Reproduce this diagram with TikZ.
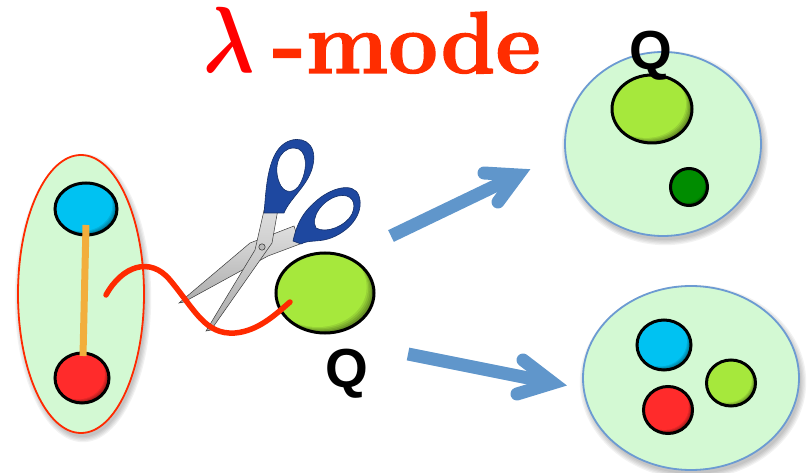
\documentclass[tikz,border=0pt]{standalone}
\usepackage{fontspec}
\usepackage{amsmath,bm,graphicx}
\newfontfamily\qfont{Liberation Sans}
\newfontfamily\titlefont{Latin Modern Roman}[FakeBold=1.6]
\usetikzlibrary{shapes.geometric,arrows.meta,calc}

\definecolor{cellfill}{HTML}{D3F9D3}
\definecolor{cellred}{HTML}{FF2A00}
\definecolor{cellblue}{HTML}{6C9BD2}
\definecolor{arrowblue}{HTML}{6096CB}
\definecolor{ballblue}{HTML}{00C2F2}
\definecolor{ballred}{HTML}{FF2B2B}
\definecolor{balllime}{HTML}{A6E83C}
\definecolor{balldark}{HTML}{008C00}
\definecolor{barorange}{HTML}{F2AE3C}
\definecolor{wirered}{HTML}{FF2A00}
\definecolor{lamred}{HTML}{FF0000}
\definecolor{modered}{HTML}{FF2D00}
\definecolor{handleblue}{HTML}{1E48A0}

\tikzset{
  cell/.style={ellipse, fill=cellfill, line width=1.8pt, inner sep=0pt},
  % ball: dark base, then lighter copies shifted to the upper left,
  % which leaves a soft dark crescent at the lower right
  ball/.style={ellipse, draw=black, line width=3pt, inner sep=0pt, fill=#1!55!black,
    path picture={
      \foreach \k/\m in {1/64,2/73,3/82,4/91,5/100}{
        \fill[#1!\m!black]
          let \p1=(path picture bounding box.north east),
              \p2=(path picture bounding box.center) in
          ($(\p2)+({-0.03*\k*(\x1-\x2)},{0.03*\k*(\y1-\y2)})$)
          ellipse [x radius={\x1-\x2}, y radius={\y1-\y2}];
      }}},
  qlabel/.style={font=\qfont\bfseries\fontsize{55}{60}\selectfont, inner sep=0pt, anchor=base},
  shaftline/.style={arrowblue, line width=13pt, line cap=butt},
  headline/.style={arrowblue, line width=13pt, line cap=round, line join=miter},
  wire/.style={wirered, line width=5.5pt, line cap=round},
  blade/.style={top color=gray!25, bottom color=gray!65, draw=gray!45!black, line width=0.5pt},
  handle/.style={fill=handleblue, draw=handleblue!65!black, line width=0.6pt, even odd rule},
}

% soft shadow under a large ellipse: centre x, centre y, width, height
\newcommand{\softshadow}[4]{%
  \foreach \k in {0,1,2,3,4}{%
    \fill[black, opacity=0.05] (#1+2,#2+4) ellipse [x radius={#3/2+\k*1.3}, y radius={#4/2+\k*1.3}];}}

\begin{document}
\begin{tikzpicture}[x=1pt, y=-1pt]
\useasboundingbox (0,0) rectangle (807,473);

% title
\node[anchor=base west, inner sep=0pt, text=lamred] (lam) at (203,73)
  {\fontsize{10}{12}\selectfont\scalebox{7.6}[9.4]{$\bm{\lambda}$}};
\node[anchor=base east, inner sep=0pt, text=modered,
  font=\titlefont\bfseries\fontsize{88}{90}\selectfont] (mode) at (541,73) {-mode};

% left cell with the bound pair
\softshadow{81}{294}{126}{278}
\node[cell, draw=cellred, minimum width=126pt, minimum height=278pt] (pair) at (81,294) {};
\node[ball=ballblue, minimum width=62pt, minimum height=52pt] (lb) at (86,209) {};
\node[ball=ballred, minimum width=54pt, minimum height=50pt] (lr) at (82,378) {};
\coordinate (bartop) at (86,225);
\coordinate (barbot) at (83,356);
\draw[barorange, line width=7pt] (bartop) -- (barbot);

% released particle
\node[ball=balllime, minimum width=98pt, minimum height=80pt] (q) at (325,293) {};
\node[qlabel] (qlab) at (347,388) {Q};

% scissors
\draw[blade] (294,226) -- (300,244) -- (268,256) -- (184,302) -- (179,303) -- (250,243) -- cycle;
\draw[blade] (265,206) -- (278,209) -- (272,243) -- (211,330) -- (206,331) -- (255,250) -- cycle;
\fill[gray!55] (262,247) circle[radius=3.2];
\draw[gray!30!black, line width=0.5pt] (262,247) circle[radius=3.2];
\draw[handle]
  (264,213) .. controls (266,195) and (266,155) .. (285,143)
  .. controls (300,134) and (318,142) .. (313,165)
  .. controls (309,185) and (290,198) .. (284,213) -- cycle
  (281,186) .. controls (272,170) and (278,148) .. (294,148)
  .. controls (308,148) and (308,170) .. (300,184)
  .. controls (295,193) and (286,194) .. (281,186) -- cycle;
\draw[handle]
  (293,241) .. controls (296,228) and (300,215) .. (315,202)
  .. controls (330,188) and (354,181) .. (359,196)
  .. controls (365,214) and (348,233) .. (328,239)
  .. controls (318,242) and (308,240) .. (301,244) -- cycle
  (316,228) .. controls (310,218) and (322,200) .. (338,196)
  .. controls (352,193) and (357,203) .. (352,214)
  .. controls (346,226) and (326,234) .. (316,228) -- cycle;

% tether being cut
\coordinate (wstart) at (106,295);
\coordinate (wend) at (290,302);
\draw[wire] (wstart) .. controls (122,266) and (150,256) .. (170,280)
  .. controls (195,310) and (205,335) .. (235,333)
  .. controls (258,331) and (275,315) .. (wend);

% upper arrow
\coordinate (a1tail) at (391,236);
\coordinate (a1tip) at (518,175);
\coordinate (a1up) at (484,173);
\coordinate (a1lo) at (498,202);
\draw[shaftline] (a1tail) -- (a1tip);
\draw[headline] (a1up) -- (a1tip) -- (a1lo);

% lower arrow
\coordinate (a2tail) at (408,354);
\coordinate (a2tip) at (553,383);
\coordinate (a2up) at (523,360);
\coordinate (a2lo) at (517,394);
\draw[shaftline] (a2tail) -- (a2tip);
\draw[headline] (a2up) -- (a2tip) -- (a2lo);

% upper right cell
\softshadow{663}{144}{196}{184}
\node[cell, draw=cellblue, minimum width=196pt, minimum height=184pt] (c1) at (663,144) {};
\node[ball=balllime, minimum width=80pt, minimum height=68pt] (c1q) at (652,109) {};
\node[ball=balldark, minimum width=37pt, minimum height=37pt] (c1d) at (689,187) {};
\node[qlabel] (c1lab) at (651,70) {Q};

% lower right cell
\softshadow{691}{378}{216}{184}
\node[cell, draw=cellblue, minimum width=216pt, minimum height=184pt] (c2) at (691,378) {};
\node[ball=ballblue, minimum width=54pt, minimum height=50pt] (c2b) at (664,345) {};
\node[ball=ballred, minimum width=49pt, minimum height=47pt] (c2r) at (668,410) {};
\node[ball=balllime, minimum width=49pt, minimum height=46pt] (c2l) at (731,383) {};
\end{tikzpicture}
\end{document}
